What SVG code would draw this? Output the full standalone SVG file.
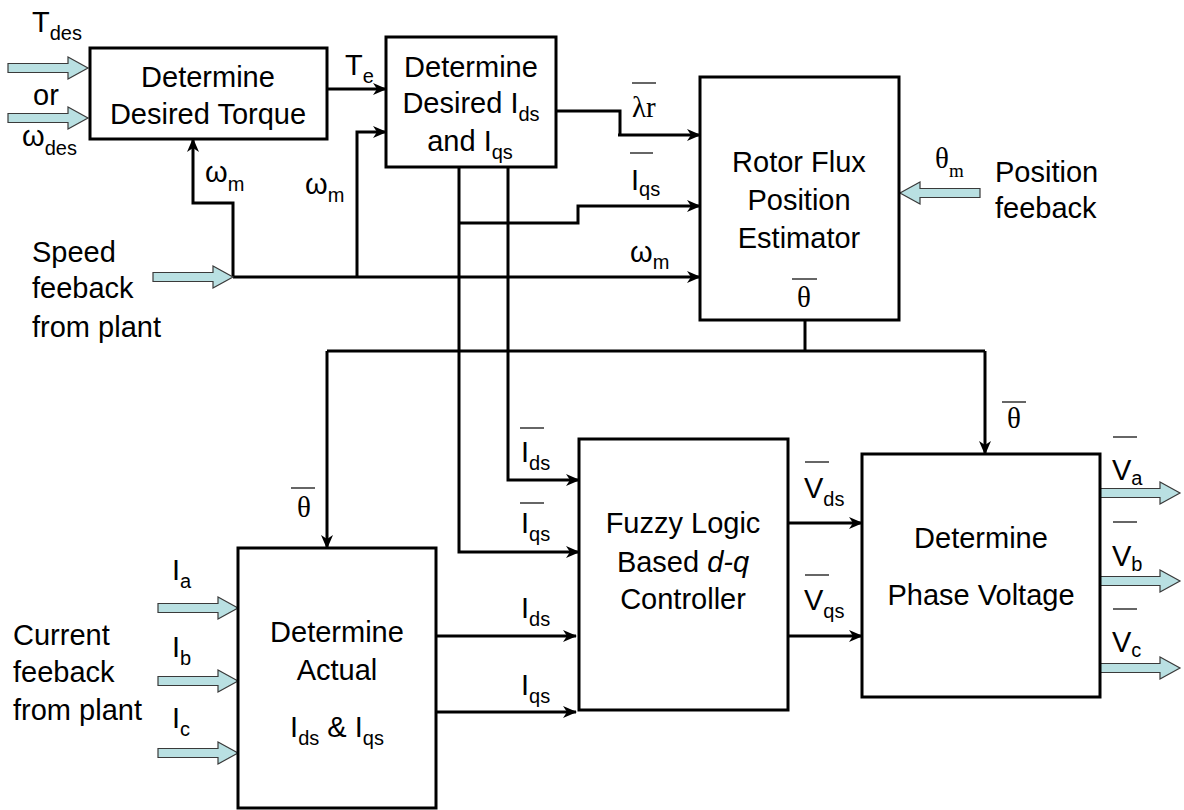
<svg xmlns="http://www.w3.org/2000/svg" xmlns:xlink="http://www.w3.org/1999/xlink" width="1184" height="810" viewBox="0 0 1184 810">
<style>
.box{fill:#fff;stroke:#000;stroke-width:3}
.wire{fill:none;stroke:#000;stroke-width:3}
.t{font-family:"Liberation Sans",Arial,sans-serif;font-size:29px;fill:#000}
.c{text-anchor:middle}
.s{font-size:20px}
.ser{font-family:"Liberation Serif","Times New Roman",serif}
.ov{stroke:#333;stroke-width:1.5}
.ha{fill:#b9e0e2;stroke:#3a3a3a;stroke-width:1.2}
</style>
<defs>
<marker id="ar" viewBox="0 0 14 14" refX="13" refY="7" markerWidth="14" markerHeight="14" markerUnits="userSpaceOnUse" orient="auto">
<path d="M0,1 L14,7 L0,13 L4,7 Z" fill="#000"/>
</marker>
<path id="ha" class="ha" d="M-80,-4.5 H-20 V-11 L0,0 L-20,11 V4.5 H-80 Z"/>
</defs>
<rect width="1184" height="810" fill="#fff"/>

<g id="connectors">
<path class="wire" d="M327,89 H386" marker-end="url(#ar)"/>
<path class="wire" d="M357,277 V132 H386" marker-end="url(#ar)"/>
<path class="wire" d="M233,277 V203 H193 V139" marker-end="url(#ar)"/>
<path class="wire" d="M233,277 H700" marker-end="url(#ar)"/>
<path class="wire" d="M556,111 H620 V135"/>
<path class="wire" d="M618,135 H700" marker-end="url(#ar)"/>
<path class="wire" d="M459,167 V552 H579" marker-end="url(#ar)"/>
<path class="wire" d="M459,223 H578 V206 H700" marker-end="url(#ar)"/>
<path class="wire" d="M508,167 V480 H579" marker-end="url(#ar)"/>
<path class="wire" d="M805,320 V351"/>
<path class="wire" d="M327,351 H985"/>
<path class="wire" d="M327,351 V548" marker-end="url(#ar)"/>
<path class="wire" d="M985,351 V454" marker-end="url(#ar)"/>
<path class="wire" d="M436,636 H576" marker-end="url(#ar)"/>
<path class="wire" d="M436,712 H576" marker-end="url(#ar)"/>
<path class="wire" d="M788,523 H862" marker-end="url(#ar)"/>
<path class="wire" d="M788,636 H862" marker-end="url(#ar)"/>
<use xlink:href="#ha" href="#ha" transform="translate(88,68)"/>
<use xlink:href="#ha" href="#ha" transform="translate(88,118)"/>
<use xlink:href="#ha" href="#ha" transform="translate(233,277)"/>
<use xlink:href="#ha" href="#ha" transform="translate(900,193) rotate(180)"/>
<use xlink:href="#ha" href="#ha" transform="translate(238,608)"/>
<use xlink:href="#ha" href="#ha" transform="translate(238,681)"/>
<use xlink:href="#ha" href="#ha" transform="translate(238,753)"/>
<use xlink:href="#ha" href="#ha" transform="translate(1180,493)"/>
<use xlink:href="#ha" href="#ha" transform="translate(1180,581)"/>
<use xlink:href="#ha" href="#ha" transform="translate(1180,668)"/>
</g>

<g id="torque">
<rect class="box" x="90" y="48" width="237" height="91"/>
<text class="t c" x="208" y="87">Determine</text>
<text class="t c" x="208" y="124">Desired Torque</text>
</g>

<g id="desired-idq">
<rect class="box" x="386" y="37" width="170" height="130"/>
<text class="t c" x="471" y="77">Determine</text>
<text class="t c" x="471" y="113">Desired I<tspan class="s" dy="8">ds</tspan></text>
<text class="t c" x="470" y="151">and I<tspan class="s" dy="8">qs</tspan></text>
</g>

<g id="rotor-flux">
<rect class="box" x="700" y="77" width="199" height="243"/>
<text class="t c" x="799" y="172">Rotor Flux</text>
<text class="t c" x="799" y="210">Position</text>
<text class="t c" x="799" y="248">Estimator</text>
<line class="ov" x1="792" y1="279" x2="817" y2="279"/>
<text class="t c ser" x="804" y="307" font-size="28">θ</text>
</g>

<g id="actual">
<rect class="box" x="238" y="548" width="198" height="260"/>
<text class="t c" x="337" y="642">Determine</text>
<text class="t c" x="337" y="680">Actual</text>
<text class="t c" x="337" y="737">I<tspan class="s" dy="8">ds</tspan><tspan dy="-8"> &amp; I</tspan><tspan class="s" dy="8">qs</tspan></text>
</g>

<g id="fuzzy">
<rect class="box" x="579" y="439" width="209" height="271"/>
<text class="t c" x="683" y="533">Fuzzy Logic</text>
<text class="t c" x="683" y="572">Based <tspan font-style="italic">d-q</tspan></text>
<text class="t c" x="683" y="609">Controller</text>
</g>

<g id="phase">
<rect class="box" x="862" y="454" width="238" height="243"/>
<text class="t c" x="981" y="548">Determine</text>
<text class="t c" x="981" y="605">Phase Voltage</text>
</g>

<g id="labels">
<text class="t" x="32" y="32">T<tspan class="s" dy="8">des</tspan></text>
<text class="t" x="33" y="105">or</text>
<text class="t" x="22" y="146">ω<tspan class="s" dy="9">des</tspan></text>
<text class="t" x="345" y="75">T<tspan class="s" dy="8">e</tspan></text>
<text class="t" x="205" y="182">ω<tspan class="s" dy="9">m</tspan></text>
<text class="t" x="305" y="194">ω<tspan class="s" dy="8">m</tspan></text>
<text class="t" x="630" y="262">ω<tspan class="s" dy="7">m</tspan></text>
<line class="ov" x1="632" y1="83" x2="656" y2="83"/>
<text class="t ser" x="632" y="117" font-size="28">λr</text>
<line class="ov" x1="630" y1="153" x2="653" y2="153"/>
<text class="t" x="631" y="190">I<tspan class="s" dy="6">qs</tspan></text>
<text class="t ser" x="935" y="168" font-size="28">θ<tspan font-size="19" dy="9">m</tspan></text>
<text class="t" x="995" y="182">Position</text>
<text class="t" x="995" y="218">feeback</text>
<text class="t" x="32" y="262">Speed</text>
<text class="t" x="32" y="298">feeback</text>
<text class="t" x="32" y="337">from plant</text>
<line class="ov" x1="291" y1="488" x2="315" y2="488"/>
<text class="t ser" x="297" y="517" font-size="28">θ</text>
<line class="ov" x1="1002" y1="402" x2="1026" y2="402"/>
<text class="t ser" x="1007" y="428" font-size="28">θ</text>
<text class="t" x="172" y="580">I<tspan class="s" dy="8">a</tspan></text>
<text class="t" x="172" y="657">I<tspan class="s" dy="8">b</tspan></text>
<text class="t" x="172" y="728">I<tspan class="s" dy="8">c</tspan></text>
<text class="t" x="13" y="645">Current</text>
<text class="t" x="13" y="682">feeback</text>
<text class="t" x="13" y="720">from plant</text>
<line class="ov" x1="520" y1="428" x2="544" y2="428"/>
<text class="t" x="521" y="462">I<tspan class="s" dy="8">ds</tspan></text>
<line class="ov" x1="520" y1="503" x2="544" y2="503"/>
<text class="t" x="521" y="533">I<tspan class="s" dy="8">qs</tspan></text>
<text class="t" x="521" y="618">I<tspan class="s" dy="8">ds</tspan></text>
<text class="t" x="521" y="695">I<tspan class="s" dy="8">qs</tspan></text>
<line class="ov" x1="805" y1="462" x2="829" y2="462"/>
<text class="t" x="804" y="498">V<tspan class="s" dy="8">ds</tspan></text>
<line class="ov" x1="805" y1="575" x2="829" y2="575"/>
<text class="t" x="804" y="610">V<tspan class="s" dy="8">qs</tspan></text>
<line class="ov" x1="1113" y1="437" x2="1137" y2="437"/>
<text class="t" x="1112" y="480">V<tspan class="s" dy="5">a</tspan></text>
<line class="ov" x1="1113" y1="522" x2="1137" y2="522"/>
<text class="t" x="1112" y="566">V<tspan class="s" dy="5">b</tspan></text>
<line class="ov" x1="1113" y1="609" x2="1137" y2="609"/>
<text class="t" x="1112" y="652">V<tspan class="s" dy="5">c</tspan></text>
</g>
</svg>
